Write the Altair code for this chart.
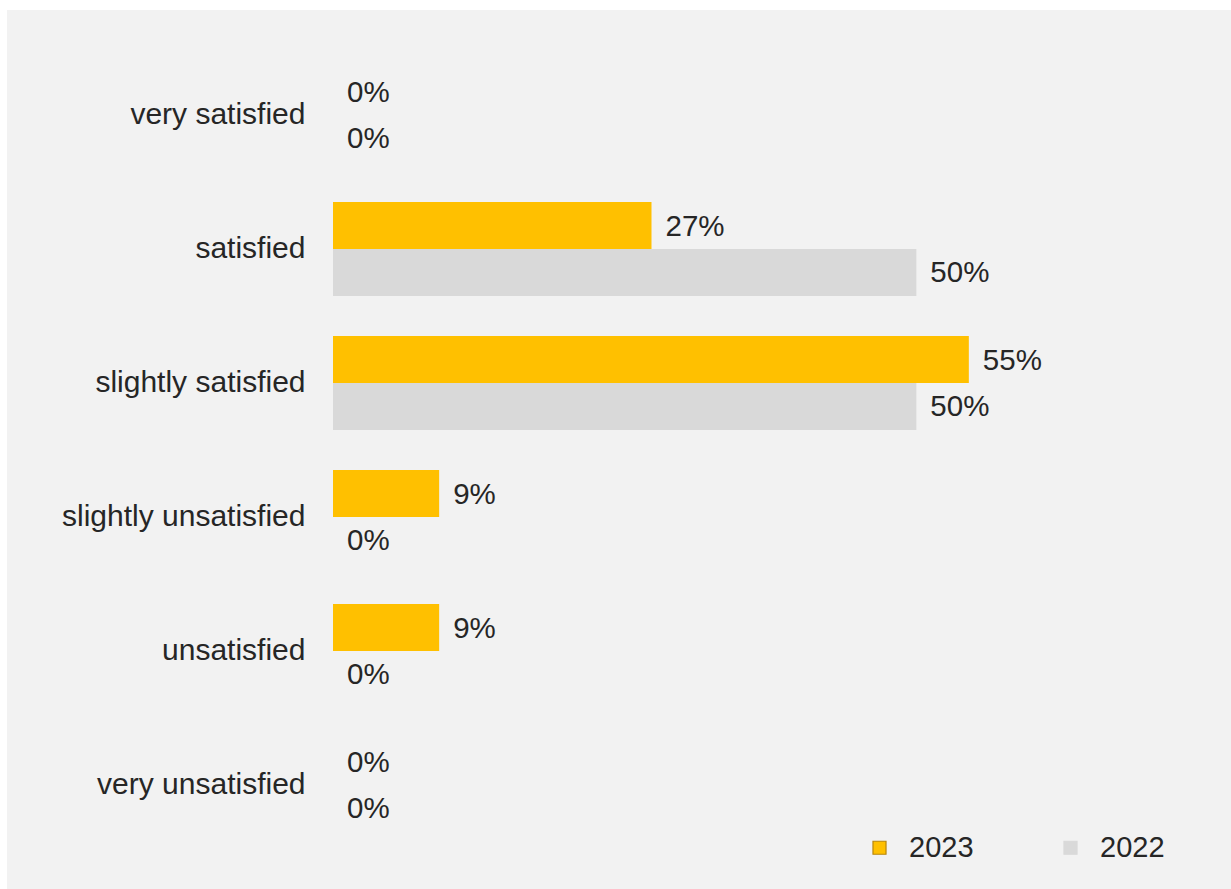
import altair as alt
import pandas as pd

categories = ["very satisfied", "satisfied", "slightly satisfied",
              "slightly unsatisfied", "unsatisfied", "very unsatisfied"]
years = ["2023", "2022"]
values_2023 = [0.0, 0.273, 0.545, 0.091, 0.091, 0.0]
values_2022 = [0.0, 0.50, 0.50, 0.0, 0.0, 0.0]
colors = ["#ffc000", "#d9d9d9"]
strokes = ["#b8860b", "#d9d9d9"]

rows = []
for c, a, b in zip(categories, values_2023, values_2022):
    rows.append({"cat": c, "year": "2023", "value": a})
    rows.append({"cat": c, "year": "2022", "value": b})
df = pd.DataFrame(rows)

FONT = "Liberation Sans"
TXT = "#262626"

y_enc = alt.Y("cat:N", sort=categories, title=None,
              scale=alt.Scale(paddingInner=0.3, paddingOuter=0.15),
              axis=alt.Axis(domain=False, ticks=False, labelFontSize=30,
                            labelFont=FONT, labelColor=TXT, labelPadding=28,
                            labelLimit=400, zindex=2))
yoff = alt.YOffset("year:N", sort=years, scale=alt.Scale(domain=years, paddingInner=0, paddingOuter=0))
x_enc = alt.X("value:Q", scale=alt.Scale(domain=[0, 0.6]), axis=None)

bg = alt.Chart(pd.DataFrame({"a": [0]})).mark_rect(color="#f2f2f2").encode(
    x=alt.value(-326), x2=alt.value(900), y=alt.value(-38), y2=alt.value(845))

bars = alt.Chart(df).mark_bar(strokeWidth=0).encode(
    y=y_enc, yOffset=yoff, x=x_enc,
    fill=alt.Fill("year:N", sort=years,
                  scale=alt.Scale(domain=years, range=colors),
                  legend=alt.Legend(title=None, orient="none", direction="horizontal",
                                    legendX=532, legendY=785, symbolType="square",
                                    symbolSize=170, symbolStrokeWidth=1.2,
                                    labelFontSize=29, labelFont=FONT, labelColor=TXT,
                                    labelOffset=15, columnPadding=82, padding=0,
                                    zindex=2)),
    stroke=alt.Stroke("year:N", sort=years,
                      scale=alt.Scale(domain=years, range=strokes), legend=None),
)

labels = alt.Chart(df).mark_text(align="left", baseline="middle", dx=14, dy=1,
                                 fontSize=29.5, font=FONT, color=TXT).encode(
    y=y_enc, yOffset=yoff, x=x_enc,
    text=alt.Text("value:Q", format=".0%"))

chart = alt.layer(bg, bars, labels).properties(
    width=700, height=804,
    autosize=alt.AutoSizeParams(type="none"),
    padding={"left": 333, "top": 48, "right": 198, "bottom": 37},
    background="white",
).configure_view(stroke=None)

chart.save("out.html", embed_options={"renderer": "svg", "actions": False})
